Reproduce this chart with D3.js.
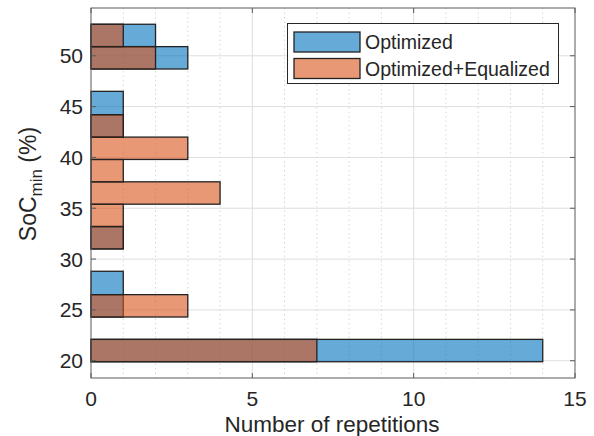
<!DOCTYPE html>
<html>
<head>
<meta charset="utf-8">
<script src="https://cdn.jsdelivr.net/npm/d3@7"></script>
<style>
  body { margin: 0; background: #fff; }
  text { font-family: "Liberation Sans", Arial, sans-serif; fill: #262626; }
</style>
</head>
<body>
<div id="chart"></div>
<script>
// histogram bin edges (SoC_min, %)
const binEdges = [19.9, 22.1, 24.3, 26.5, 28.8, 31.0, 33.2, 35.4, 37.6, 39.8, 42.0, 44.2, 46.5, 48.7, 50.9, 53.1];
// counts per bin, bottom to top
const optimized = [14, 0, 1, 1, 0, 1, 0, 0, 0, 0, 1, 1, 0, 3, 2];
const equalized = [7, 0, 3, 0, 0, 1, 1, 4, 1, 3, 1, 0, 0, 2, 1];
const seriesNames = ['Optimized', 'Optimized+Equalized'];
const xTicks = [0, 5, 10, 15];
const yTicks = [20, 25, 30, 35, 40, 45, 50];

const width = 594;
const height = 436;
const plotL = 91, plotR = 575, plotT = 8, plotB = 378;

const colors = ['#0072BD', '#D95319'];

const svg = d3.select('#chart').append('svg')
    .attr('width', width).attr('height', height);

const x = d3.scaleLinear().domain([0, 15]).range([plotL, plotR]);
const y = d3.scaleLinear().domain([18.3, 54.7]).range([plotB, plotT]);

// grid
const grid = svg.append('g');
grid.selectAll('line.minor')
    .data(d3.range(1, 15).filter(d => d % 5 !== 0))
    .enter().append('line')
    .attr('x1', d => x(d)).attr('x2', d => x(d))
    .attr('y1', plotT).attr('y2', plotB)
    .attr('stroke', '#d8d8d8').attr('stroke-dasharray', '1.5,3');
grid.selectAll('line.vmajor')
    .data(xTicks.slice(1, -1))
    .enter().append('line')
    .attr('x1', d => x(d)).attr('x2', d => x(d))
    .attr('y1', plotT).attr('y2', plotB)
    .attr('stroke', '#dedede');
grid.selectAll('line.hmajor')
    .data(yTicks)
    .enter().append('line')
    .attr('x1', plotL).attr('x2', plotR)
    .attr('y1', d => y(d)).attr('y2', d => y(d))
    .attr('stroke', '#dedede');

// bars
function drawSeries(counts, color) {
    const bins = counts.map((c, i) => ({c: c, lo: binEdges[i], hi: binEdges[i + 1]}))
        .filter(d => d.c > 0);
    svg.append('g').selectAll('rect')
        .data(bins)
        .enter().append('rect')
        .attr('x', x(0))
        .attr('y', d => y(d.hi))
        .attr('width', d => x(d.c) - x(0))
        .attr('height', d => y(d.lo) - y(d.hi))
        .attr('fill', color).attr('fill-opacity', 0.6)
        .attr('stroke', '#222').attr('stroke-width', 1.3);
}
drawSeries(optimized, colors[0]);
drawSeries(equalized, colors[1]);

// box + ticks
svg.append('rect')
    .attr('x', plotL).attr('y', plotT)
    .attr('width', plotR - plotL).attr('height', plotB - plotT)
    .attr('fill', 'none').attr('stroke', '#5a5a5a').attr('stroke-width', 1);

const tickLen = 5;
xTicks.forEach(t => {
    svg.append('line').attr('x1', x(t)).attr('x2', x(t))
        .attr('y1', plotB).attr('y2', plotB - tickLen).attr('stroke', '#5a5a5a');
    svg.append('line').attr('x1', x(t)).attr('x2', x(t))
        .attr('y1', plotT).attr('y2', plotT + tickLen).attr('stroke', '#5a5a5a');
    svg.append('text').attr('x', x(t)).attr('y', 406)
        .attr('text-anchor', 'middle').attr('font-size', 21).text(t);
});
yTicks.forEach(t => {
    svg.append('line').attr('x1', plotL).attr('x2', plotL + tickLen)
        .attr('y1', y(t)).attr('y2', y(t)).attr('stroke', '#5a5a5a');
    svg.append('line').attr('x1', plotR).attr('x2', plotR - tickLen)
        .attr('y1', y(t)).attr('y2', y(t)).attr('stroke', '#5a5a5a');
    svg.append('text').attr('x', 83).attr('y', y(t) + 7.5)
        .attr('text-anchor', 'end').attr('font-size', 21).text(t);
});

// axis labels
svg.append('text').attr('x', 332).attr('y', 432)
    .attr('text-anchor', 'middle').attr('font-size', 22.5).text('Number of repetitions');

const yl = svg.append('text')
    .attr('transform', 'translate(36,184) rotate(-90)')
    .attr('text-anchor', 'middle').attr('font-size', 23);
yl.append('tspan').text('SoC');
yl.append('tspan').attr('font-size', 17).attr('dy', 6).text('min');
yl.append('tspan').attr('dy', -6).text(' (%)');

// legend
const lg = svg.append('g');
lg.append('rect').attr('x', 287.5).attr('y', 23.5).attr('width', 271).attr('height', 60)
    .attr('fill', '#fff').attr('stroke', '#262626').attr('stroke-width', 1);
seriesNames.forEach((name, i) => {
    const yy = 32 + i * 26.5;
    lg.append('rect').attr('x', 294).attr('y', yy).attr('width', 66).attr('height', 20)
        .attr('fill', colors[i]).attr('fill-opacity', 0.6)
        .attr('stroke', '#222').attr('stroke-width', 1.3);
    lg.append('text').attr('x', 365).attr('y', yy + 17)
        .attr('font-size', 19.5).text(name);
});
</script>
</body>
</html>
